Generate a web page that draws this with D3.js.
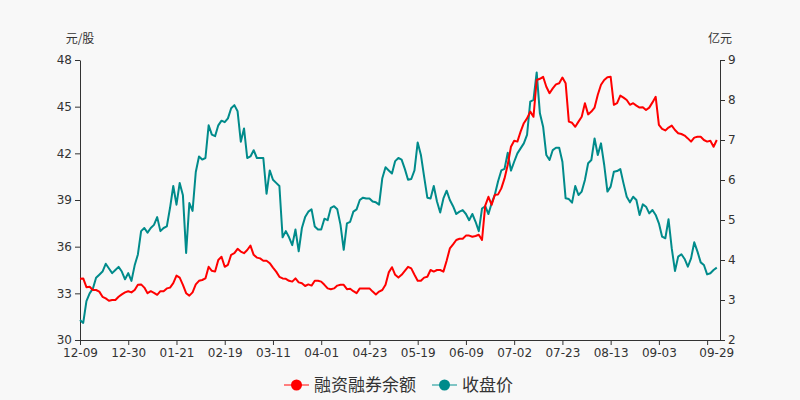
<!DOCTYPE html>
<html>
<head>
<meta charset="utf-8">
<script src="https://cdn.jsdelivr.net/npm/d3@7"></script>
<style>
  body { margin: 0; background: #f8f8f8; }
  svg { display: block; background: #f8f8f8; }
  .axis text { font-family: "DejaVu Sans", sans-serif; font-size: 12px; fill: #333; }
  .axis path, .axis line { stroke: #333; }
</style>
</head>
<body>
<div id="chart"></div>
<script>
// trading days 2019-12-09 .. 2020-09-29
var dates = [
  "12-09","12-10","12-11","12-12","12-13","12-16","12-17","12-18","12-19","12-20",
  "12-23","12-24","12-25","12-26","12-27","12-30","12-31","01-02","01-03","01-06",
  "01-07","01-08","01-09","01-10","01-13","01-14","01-15","01-16","01-17","01-20",
  "01-21","01-22","01-23","02-03","02-04","02-05","02-06","02-07","02-10","02-11",
  "02-12","02-13","02-14","02-17","02-18","02-19","02-20","02-21","02-24","02-25",
  "02-26","02-27","02-28","03-02","03-03","03-04","03-05","03-06","03-09","03-10",
  "03-11","03-12","03-13","03-16","03-17","03-18","03-19","03-20","03-23","03-24",
  "03-25","03-26","03-27","03-30","03-31","04-01","04-02","04-03","04-07","04-08",
  "04-09","04-10","04-13","04-14","04-15","04-16","04-17","04-20","04-21","04-22",
  "04-23","04-24","04-27","04-28","04-29","04-30","05-06","05-07","05-08","05-11",
  "05-12","05-13","05-14","05-15","05-18","05-19","05-20","05-21","05-22","05-25",
  "05-26","05-27","05-28","05-29","06-01","06-02","06-03","06-04","06-05","06-08",
  "06-09","06-10","06-11","06-12","06-15","06-16","06-17","06-18","06-19","06-22",
  "06-23","06-24","06-29","06-30","07-01","07-02","07-03","07-06","07-07","07-08",
  "07-09","07-10","07-13","07-14","07-15","07-16","07-17","07-20","07-21","07-22",
  "07-23","07-24","07-27","07-28","07-29","07-30","07-31","08-03","08-04","08-05",
  "08-06","08-07","08-10","08-11","08-12","08-13","08-14","08-17","08-18","08-19",
  "08-20","08-21","08-24","08-25","08-26","08-27","08-28","08-31","09-01","09-02",
  "09-03","09-04","09-07","09-08","09-09","09-10","09-11","09-14","09-15","09-16",
  "09-17","09-18","09-21","09-22","09-23","09-24","09-25","09-28","09-29"
];

// 融资融券余额 (亿元, right axis)
var margin = [
  3.53,3.54,3.32,3.33,3.25,3.25,3.21,3.08,3.04,2.98,
  3.00,3.00,3.08,3.14,3.19,3.22,3.19,3.25,3.38,3.39,
  3.31,3.17,3.22,3.18,3.13,3.22,3.22,3.29,3.31,3.42,
  3.61,3.56,3.38,3.17,3.11,3.19,3.39,3.48,3.50,3.54,
  3.83,3.73,3.71,4.00,4.08,3.83,3.88,4.13,4.17,4.28,
  4.21,4.17,4.25,4.36,4.13,4.06,4.04,3.98,3.98,3.92,
  3.81,3.71,3.58,3.54,3.53,3.48,3.46,3.54,3.44,3.42,
  3.35,3.39,3.36,3.48,3.48,3.46,3.38,3.29,3.27,3.29,
  3.36,3.38,3.38,3.27,3.28,3.22,3.17,3.29,3.29,3.29,
  3.29,3.21,3.14,3.21,3.25,3.38,3.69,3.82,3.63,3.56,
  3.63,3.73,3.83,3.79,3.63,3.48,3.48,3.56,3.58,3.75,
  3.71,3.75,3.75,3.71,3.98,4.29,4.39,4.50,4.53,4.53,
  4.61,4.61,4.58,4.60,4.63,4.50,5.36,5.58,5.38,5.63,
  5.64,5.79,6.04,6.38,6.83,6.98,6.96,7.21,7.42,7.54,
  7.71,7.58,8.50,8.53,8.58,8.33,8.17,8.29,8.39,8.42,
  8.56,8.42,7.46,7.43,7.33,7.46,7.58,7.92,7.64,7.71,
  7.81,8.13,8.38,8.50,8.57,8.58,7.88,7.92,8.11,8.06,
  8.00,7.88,7.92,7.86,7.81,7.82,7.75,7.81,7.94,8.08,
  7.38,7.28,7.24,7.31,7.36,7.25,7.17,7.15,7.11,7.04,
  6.96,7.06,7.08,7.08,7.00,6.96,6.98,6.83,7.00
];

// 收盘价 (元/股, left axis)
var close = [
  31.29,31.10,32.50,33.00,33.30,34.00,34.20,34.40,34.90,34.60,
  34.30,34.50,34.70,34.40,33.90,34.30,33.80,34.80,35.50,37.00,
  37.20,36.90,37.20,37.40,37.90,37.00,37.20,37.30,38.50,39.90,
  38.70,40.10,39.30,35.60,38.80,38.30,40.80,41.80,41.60,41.70,
  43.80,43.20,43.10,43.80,44.10,44.00,44.25,44.90,45.10,44.70,
  42.75,43.60,41.70,41.80,42.20,41.70,41.70,41.70,39.40,40.90,
  40.30,40.10,39.90,36.60,37.00,36.60,36.10,37.10,35.70,37.20,
  37.90,38.25,38.40,37.30,37.10,37.10,37.80,37.70,38.50,38.60,
  38.40,37.40,35.80,37.50,37.60,38.25,38.40,39.00,39.15,39.10,
  39.10,38.90,38.85,38.70,40.40,41.10,40.90,40.70,41.50,41.70,
  41.60,41.00,40.30,40.35,40.90,42.70,41.90,40.50,39.15,39.10,
  39.90,38.90,38.20,39.10,39.60,39.00,38.60,38.10,38.25,38.35,
  38.10,37.70,38.10,37.60,37.00,38.45,38.60,38.10,38.80,39.35,
  40.20,40.90,41.00,42.04,40.89,41.46,42.00,42.32,42.64,43.18,
  45.32,45.43,47.20,44.57,43.71,41.89,41.57,42.21,42.36,42.36,
  41.46,39.11,39.06,38.83,39.90,39.32,39.54,40.29,41.36,41.57,
  42.96,41.89,42.64,41.25,39.54,39.86,40.82,40.86,40.99,40.07,
  39.21,38.85,39.21,39.00,38.04,38.72,38.57,38.14,38.36,38.04,
  37.50,36.64,36.54,37.76,35.89,34.44,35.36,35.51,35.21,34.71,
  35.25,36.28,35.68,34.99,34.82,34.22,34.29,34.50,34.65
];

var leftTicks = [30, 33, 36, 39, 42, 45, 48];
var rightTicks = [2, 3, 4, 5, 6, 7, 8, 9];
var seriesNames = ["融资融券余额", "收盘价"];
var seriesColors = ["#ff0000", "#008b8b"];
var legendLineColors = ["#ff7f7f", "#7fc5c5"];

var W = 800, H = 400;
var L = 80, R = 720, T = 60, B = 340;

var svg = d3.select("#chart").append("svg")
  .attr("width", W)
  .attr("height", H);

var x = d3.scaleLinear().domain([0, dates.length]).range([L, R]);
var yL = d3.scaleLinear().domain([30, 48]).range([B, T]);
var yR = d3.scaleLinear().domain([2, 9]).range([B, T]);

// x axis
var xTicks = d3.range(0, dates.length, 15);
var gx = svg.append("g")
  .attr("class", "axis")
  .attr("transform", "translate(0," + B + ")")
  .call(d3.axisBottom(x)
    .tickValues(xTicks)
    .tickSize(5)
    .tickSizeOuter(0)
    .tickFormat(function (i) { return i == 195 ? "" : dates[i]; }));
gx.select(".domain").attr("d", "M" + L + ",0.5H" + R);
gx.append("text")
  .attr("x", x(dates.length - 1))
  .attr("y", 8)
  .attr("dy", "0.71em")
  .attr("text-anchor", "middle")
  .attr("fill", "#333")
  .text(dates[dates.length - 1]);

// left axis
var gl = svg.append("g")
  .attr("class", "axis")
  .attr("transform", "translate(" + L + ",0)")
  .call(d3.axisLeft(yL).tickValues(leftTicks).tickSize(5).tickSizeOuter(0));
gl.selectAll("text").attr("x", -8);

// right axis
var gr = svg.append("g")
  .attr("class", "axis")
  .attr("transform", "translate(" + R + ",0)")
  .call(d3.axisRight(yR).tickValues(rightTicks).tickSize(5).tickSizeOuter(0)
    .tickFormat(d3.format("d")));
gr.selectAll("text").attr("x", 8);

// unit labels
svg.append("text")
  .attr("x", 80).attr("y", 43)
  .attr("text-anchor", "middle")
  .style("font-family", "'Noto Sans CJK SC', sans-serif")
  .style("font-size", "12px")
  .style("fill", "#333")
  .text("元/股");
svg.append("text")
  .attr("x", 720).attr("y", 43)
  .attr("text-anchor", "middle")
  .style("font-family", "'Noto Sans CJK SC', sans-serif")
  .style("font-size", "12px")
  .style("fill", "#333")
  .text("亿元");

// lines
var lineR = d3.line()
  .x(function (d, i) { return x(i); })
  .y(function (d) { return yR(d); });
var lineL = d3.line()
  .x(function (d, i) { return x(i); })
  .y(function (d) { return yL(d); });

svg.append("path")
  .datum(close)
  .attr("d", lineL)
  .attr("fill", "none")
  .attr("stroke", seriesColors[1])
  .attr("stroke-width", 2)
  .attr("stroke-linejoin", "round");

svg.append("path")
  .datum(margin)
  .attr("d", lineR)
  .attr("fill", "none")
  .attr("stroke", seriesColors[0])
  .attr("stroke-width", 2)
  .attr("stroke-linejoin", "round");

// legend
var legendX = [284, 432];
var legend = svg.selectAll(".legend")
  .data(seriesNames)
  .enter().append("g")
  .attr("class", "legend")
  .attr("transform", function (d, i) { return "translate(" + legendX[i] + ",385)"; });
legend.append("line")
  .attr("x1", 0).attr("x2", 25)
  .attr("y1", 0).attr("y2", 0)
  .attr("stroke", function (d, i) { return legendLineColors[i]; })
  .attr("stroke-width", 2);
legend.append("circle")
  .attr("cx", 12.5).attr("cy", 0).attr("r", 5.5)
  .attr("fill", function (d, i) { return seriesColors[i]; });
legend.append("text")
  .attr("x", 30).attr("y", 0)
  .attr("dy", "0.35em")
  .style("font-family", "'Noto Sans CJK SC', sans-serif")
  .style("font-size", "17px")
  .style("fill", "#333")
  .text(function (d) { return d; });
</script>
</body>
</html>
